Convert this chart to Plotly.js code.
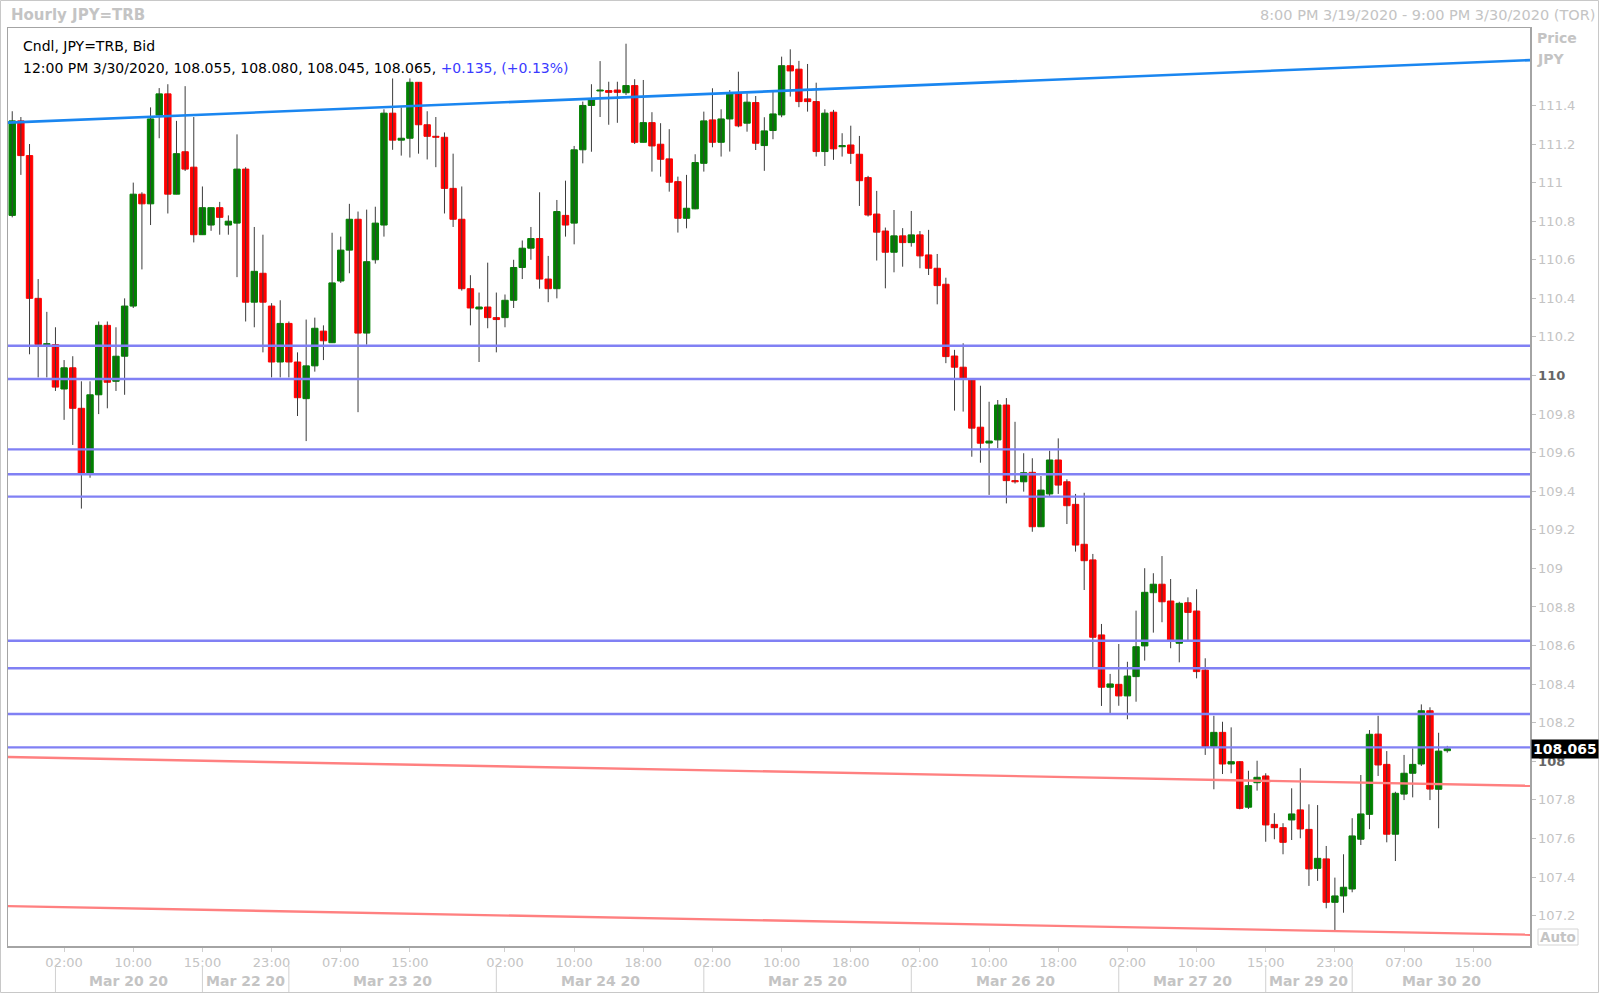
<!DOCTYPE html>
<html><head><meta charset="utf-8">
<script src="https://cdn.plot.ly/plotly-3.0.1.min.js"></script>
<style>html,body{margin:0;padding:0;background:#fff;overflow:hidden}#chart{width:1600px;height:994px}</style>
</head><body><div id="chart"></div>
<script>
// ---- data (hourly candles, index 0 = 8:00 PM 3/19/2020 TOR) ----
const openP = [110.83,111.32,111.14,110.40,110.16,110.16,109.93,110.04,109.83,109.49,
109.90,110.26,109.97,110.10,110.36,110.94,110.89,111.35,111.46,110.94,
111.16,111.08,110.73,110.78,110.87,110.78,110.79,111.07,110.38,110.53,
110.36,110.07,110.27,110.07,109.88,110.05,110.23,110.17,110.49,110.65,
110.81,110.22,110.60,110.78,111.36,111.22,111.23,111.52,111.30,111.24,
111.235,110.97,110.81,110.45,110.345,110.355,110.30,110.30,110.39,110.56,
110.66,110.71,110.50,110.45,110.83,110.79,111.17,111.40,111.475,111.477,
111.48,111.466,111.503,111.209,111.311,111.199,111.123,111.005,110.815,110.864,
111.10,111.325,111.209,111.33,111.463,111.308,111.415,111.192,111.27,111.351,
111.606,111.588,111.434,111.42,111.161,111.365,111.186,111.195,111.147,111.026,
110.837,110.749,110.639,110.724,110.689,110.729,110.625,110.556,110.473,110.101,
110.043,109.977,109.732,109.65,109.666,109.847,109.455,109.449,109.498,109.216,
109.386,109.562,109.449,109.332,109.125,109.044,108.655,108.384,108.399,108.339,
108.439,108.598,108.874,108.918,108.831,108.612,108.822,108.779,108.473,108.076,
108.15,107.986,107.998,107.762,107.889,107.924,107.673,107.656,107.696,107.748,
107.647,107.445,107.494,107.269,107.302,107.338,107.596,107.725,108.141,107.984,
107.622,107.83,107.938,107.986,108.262,107.855,108.055];
const highP = [111.37,111.34,111.20,110.50,110.33,110.25,110.08,110.10,109.97,109.97,
110.28,110.28,110.25,110.40,111.00,110.95,111.39,111.49,111.51,111.32,
111.50,111.34,110.98,110.87,110.90,110.83,111.25,111.08,110.77,110.73,
110.375,110.39,110.28,110.12,110.29,110.30,110.26,110.74,110.72,110.89,
110.85,110.86,110.875,111.38,111.54,111.39,111.54,111.52,111.37,111.34,
111.26,111.15,110.98,110.52,110.43,110.585,110.43,110.42,110.60,110.70,
110.77,110.95,110.62,110.91,111.01,111.19,111.42,111.51,111.63,111.523,
111.523,111.72,111.536,111.532,111.365,111.308,111.277,111.031,111.04,111.147,
111.368,111.489,111.38,111.48,111.575,111.463,111.449,111.339,111.475,111.653,
111.691,111.631,111.615,111.518,111.38,111.377,111.256,111.295,111.242,111.035,
110.957,110.767,110.858,110.764,110.853,110.749,110.755,110.63,110.507,110.133,
110.167,109.977,109.947,109.864,109.873,109.883,109.76,109.597,109.571,109.479,
109.61,109.674,109.462,109.386,109.392,109.075,108.712,108.453,108.608,108.516,
108.781,109.001,108.975,109.064,108.945,108.827,108.85,108.892,108.534,108.236,
108.205,108.176,108.0,107.951,108.003,107.938,107.731,107.679,107.86,107.964,
107.777,107.773,107.561,107.397,107.518,107.705,107.929,108.162,108.236,108.053,
107.842,108.033,108.067,108.295,108.28,108.148,108.08];
const lowP = [110.82,111.04,110.11,109.99,109.99,109.92,109.77,109.64,109.31,109.47,
109.80,109.83,109.92,109.90,110.35,110.55,110.78,111.23,110.84,110.94,
111.06,110.69,110.73,110.75,110.73,110.73,110.51,110.28,110.25,110.12,
109.99,109.99,109.99,109.79,109.66,110.02,110.08,110.17,110.48,110.53,
109.81,110.16,110.58,110.72,111.17,111.14,111.13,111.15,111.12,111.08,
110.84,110.77,110.44,110.26,110.07,110.245,110.12,110.25,110.35,110.50,
110.60,110.45,110.38,110.40,110.72,110.68,111.10,111.16,111.34,111.30,
111.31,111.454,111.20,111.209,111.057,111.031,110.953,110.741,110.763,110.862,
111.057,111.183,111.135,111.161,111.287,111.264,111.169,111.061,111.225,111.339,
111.446,111.391,111.368,111.135,111.086,111.118,111.135,111.097,110.879,110.824,
110.596,110.452,110.535,110.564,110.668,110.556,110.521,110.369,110.064,109.818,
109.813,109.579,109.548,109.381,109.623,109.337,109.44,109.398,109.19,109.216,
109.375,109.386,109.23,109.087,108.888,108.487,108.287,108.249,108.288,108.218,
108.309,108.522,108.667,108.721,108.586,108.513,108.629,108.43,108.033,107.855,
107.934,107.938,107.751,107.753,107.848,107.583,107.596,107.518,107.592,107.601,
107.354,107.38,107.238,107.122,107.215,107.321,107.566,107.648,107.924,107.58,
107.483,107.799,107.813,107.976,107.799,107.653,108.045];
const closeP = [111.32,111.14,110.40,110.16,110.165,109.94,110.04,109.83,109.49,109.90,
110.26,109.965,110.10,110.36,110.94,110.89,111.33,111.46,110.94,111.15,
111.07,110.73,110.87,110.87,110.82,110.80,111.07,110.38,110.54,110.38,
110.07,110.27,110.07,109.885,110.05,110.245,110.18,110.48,110.65,110.81,
110.22,110.59,110.79,111.36,111.22,111.23,111.52,111.30,111.24,111.235,
110.97,110.81,110.45,110.35,110.355,110.30,110.29,110.39,110.56,110.66,
110.71,110.50,110.45,110.85,110.78,111.17,111.40,111.43,111.48,111.468,
111.468,111.503,111.209,111.311,111.19,111.121,111.002,110.815,110.867,111.104,
111.32,111.209,111.33,111.463,111.294,111.417,111.204,111.268,111.356,111.606,
111.579,111.42,111.42,111.161,111.36,111.175,111.192,111.152,111.01,110.832,
110.743,110.639,110.724,110.689,110.729,110.62,110.556,110.466,110.098,110.043,
109.986,109.727,109.649,109.66,109.847,109.455,109.449,109.496,109.216,109.406,
109.562,109.432,109.325,109.121,109.04,108.643,108.384,108.401,108.339,108.442,
108.594,108.876,108.918,108.827,108.629,108.819,108.772,108.465,108.076,108.15,
107.986,107.998,107.756,107.874,107.917,107.67,107.656,107.58,107.727,107.649,
107.442,107.497,107.269,107.302,107.347,107.613,107.727,108.14,107.981,107.622,
107.834,107.938,107.984,108.262,107.856,108.053,108.065];

// horizontal support / resistance levels
const levels = [110.154, 109.982, 109.617, 109.488, 109.372, 108.625, 108.482, 108.245, 108.072];
// trend lines: value at left edge, value at right edge
const blueTrend = [111.311, 111.635];
const redUpper = [108.022, 107.873];
const redLower = [107.249, 107.101];
const lastPrice = 108.065;

// axis ticks
const hourIdx  = [6,14,22,30,38,46,57,65,73,81,89,97,105,113,121,129,137,145,153,161,169];
const hourText = ["02:00","10:00","15:00","23:00","07:00","15:00","02:00","10:00","18:00","02:00","10:00","18:00","02:00","10:00","18:00","02:00","10:00","15:00","23:00","07:00","15:00"];
const dayIdx  = [5,22,32,56,80,104,128,145,155];
const dayText = ["Mar 20 20","Mar 22 20","Mar 23 20","Mar 24 20","Mar 25 20","Mar 26 20","Mar 27 20","Mar 29 20","Mar 30 20"];
const priceTicks = [107.2,107.4,107.6,107.8,108,108.2,108.4,108.6,108.8,109,109.2,109.4,109.6,109.8,110,110.2,110.4,110.6,110.8,111,111.2,111.4];

// ---- layout geometry ----
const W = 1600, Hh = 994;
const M = {l: 8, r: 70, t: 28, b: 48};
const xMin = -0.49, xMax = 175.57;
const yMin = 107.0425, yMax = 111.8015;
const PX = px => (px - M.l) / (W - M.l - M.r);
const PY = py => (Hh - M.b - py) / (Hh - M.t - M.b);
const idxToPaper = i => (i - xMin) / (xMax - xMin);

const FONT = "'DejaVu Sans', Verdana, sans-serif";
const LIGHT = '#c4c4c4';

const idx = openP.map((_, i) => i);
const UP = '#008000', DOWN = '#ff0000';
const colors = idx.map(i => closeP[i] >= openP[i] ? UP : DOWN);

// wicks
const wx = [], wy = [];
idx.forEach(i => { wx.push(i, i, null); wy.push(lowP[i], highP[i], null); });

const traces = [
  {type: 'scatter', mode: 'lines', x: wx, y: wy, line: {color: '#3c3c3c', width: 1}, hoverinfo: 'skip', connectgaps: false},
  {type: 'bar', x: idx, base: idx.map(i => Math.min(openP[i], closeP[i])),
   y: idx.map(i => Math.abs(closeP[i] - openP[i])), width: 0.74,
   marker: {color: colors, line: {color: colors, width: 1}}, hoverinfo: 'skip'}
];

const shapes = [];
levels.forEach(v => shapes.push({type: 'line', xref: 'paper', yref: 'y', x0: 0, x1: 1, y0: v, y1: v,
  line: {color: '#8080f4', width: 2.4}}));
shapes.push({type: 'line', xref: 'x', yref: 'y', x0: xMin, x1: xMax, y0: blueTrend[0], y1: blueTrend[1], line: {color: '#1a86f0', width: 2.6}});
shapes.push({type: 'line', xref: 'x', yref: 'y', x0: xMin, x1: xMax, y0: redUpper[0], y1: redUpper[1], line: {color: '#ff8080', width: 2.4}});
shapes.push({type: 'line', xref: 'x', yref: 'y', x0: xMin, x1: xMax, y0: redLower[0], y1: redLower[1], line: {color: '#ff8080', width: 2.4}});
// day separators in the date row
dayIdx.forEach(d => shapes.push({type: 'line', xref: 'paper', yref: 'paper', x0: idxToPaper(d), x1: idxToPaper(d),
  y0: PY(966), y1: PY(992), line: {color: '#d0d0d0', width: 1}}));
// outer frame of the picture
shapes.push({type: 'rect', xref: 'paper', yref: 'paper', x0: PX(0.5), x1: PX(1598.5), y0: PY(0.5), y1: PY(992.5),
  line: {color: '#c8c8c8', width: 1}, fillcolor: 'rgba(0,0,0,0)'});
// "Auto" box
shapes.push({type: 'rect', xref: 'paper', yref: 'paper', x0: PX(1538), x1: PX(1578), y0: PY(929), y1: PY(945),
  line: {color: '#d4d4d4', width: 1}, fillcolor: 'rgba(0,0,0,0)'});

const annotations = [];
const ann = (o) => annotations.push(Object.assign({showarrow: false, xref: 'paper', yref: 'paper'}, o));
ann({x: PX(9), y: PY(15), xanchor: 'left', yanchor: 'middle', text: '<b>Hourly JPY=TRB</b>', font: {family: FONT, size: 15, color: LIGHT}});
ann({x: PX(1597), y: PY(15), xanchor: 'right', yanchor: 'middle', text: '8:00 PM 3/19/2020 - 9:00 PM 3/30/2020 (TOR)', font: {family: FONT, size: 14.5, color: LIGHT}});
ann({x: PX(21), y: PY(46), xanchor: 'left', yanchor: 'middle', text: 'Cndl, JPY=TRB, Bid', font: {family: FONT, size: 14, color: '#000'}});
ann({x: PX(21), y: PY(67.5), xanchor: 'left', yanchor: 'middle',
  text: '12:00 PM 3/30/2020, 108.055, 108.080, 108.045, 108.065, <span style="color:#3a3aff">+0.135, (+0.13%)</span>',
  font: {family: FONT, size: 14, color: '#000'}});
ann({x: PX(1535), y: PY(38), xanchor: 'left', yanchor: 'middle', text: '<b>Price</b>', font: {family: FONT, size: 14, color: LIGHT}});
ann({x: PX(1535), y: PY(59), xanchor: 'left', yanchor: 'middle', text: '<b>JPY</b>', font: {family: FONT, size: 14, color: LIGHT}});
ann({x: PX(1558), y: PY(937), xanchor: 'center', yanchor: 'middle', text: '<b>Auto</b>', font: {family: FONT, size: 13.5, color: LIGHT}});
// day labels centred between separators
dayIdx.forEach((d, k) => {
  const end = k + 1 < dayIdx.length ? dayIdx[k + 1] : xMax;
  ann({x: idxToPaper((d + end) / 2), y: PY(980.5), xanchor: 'center', yanchor: 'middle',
    text: '<b>' + dayText[k] + '</b>', font: {family: FONT, size: 14, color: LIGHT}});
});
// last price label
annotations.push({xref: 'paper', yref: 'y', x: PX(1531), y: lastPrice, xanchor: 'left', yanchor: 'middle', showarrow: false,
  text: '<b>' + lastPrice.toFixed(3) + '</b>', bgcolor: '#000', borderpad: 1,
  font: {family: FONT, size: 14, color: '#fff'}});

const priceText = priceTicks.map(v => {
  const s = String(+v.toFixed(1));
  return (v === 110 || v === 108) ? '<b><span style="color:#666">' + s + '</span></b>' : s;
});

const layout = {
  width: W, height: Hh,
  margin: {l: M.l, r: M.r, t: M.t, b: M.b, pad: 0},
  paper_bgcolor: '#ffffff', plot_bgcolor: '#ffffff',
  showlegend: false, hovermode: false, bargap: 0,
  font: {family: FONT, size: 13, color: LIGHT},
  xaxis: {range: [xMin, xMax], tickmode: 'array', tickvals: hourIdx, ticktext: hourText,
    ticks: 'outside', ticklen: 4, tickcolor: '#d0d0d0', tickfont: {family: FONT, size: 13, color: LIGHT},
    showgrid: false, zeroline: false, showline: true, mirror: true, linecolor: '#a4a4a4', linewidth: 1.5, fixedrange: true},
  yaxis: {side: 'right', range: [yMin, yMax], tickmode: 'array', tickvals: priceTicks, ticktext: priceText,
    ticks: 'outside', ticklen: 4, tickcolor: '#c0c0c0', tickfont: {family: FONT, size: 13, color: LIGHT},
    showgrid: false, zeroline: false, showline: true, mirror: true, linecolor: '#a4a4a4', linewidth: 1.5, fixedrange: true},
  shapes: shapes, annotations: annotations
};

Plotly.newPlot('chart', traces, layout, {displayModeBar: false, staticPlot: true});
</script>
</body></html>
